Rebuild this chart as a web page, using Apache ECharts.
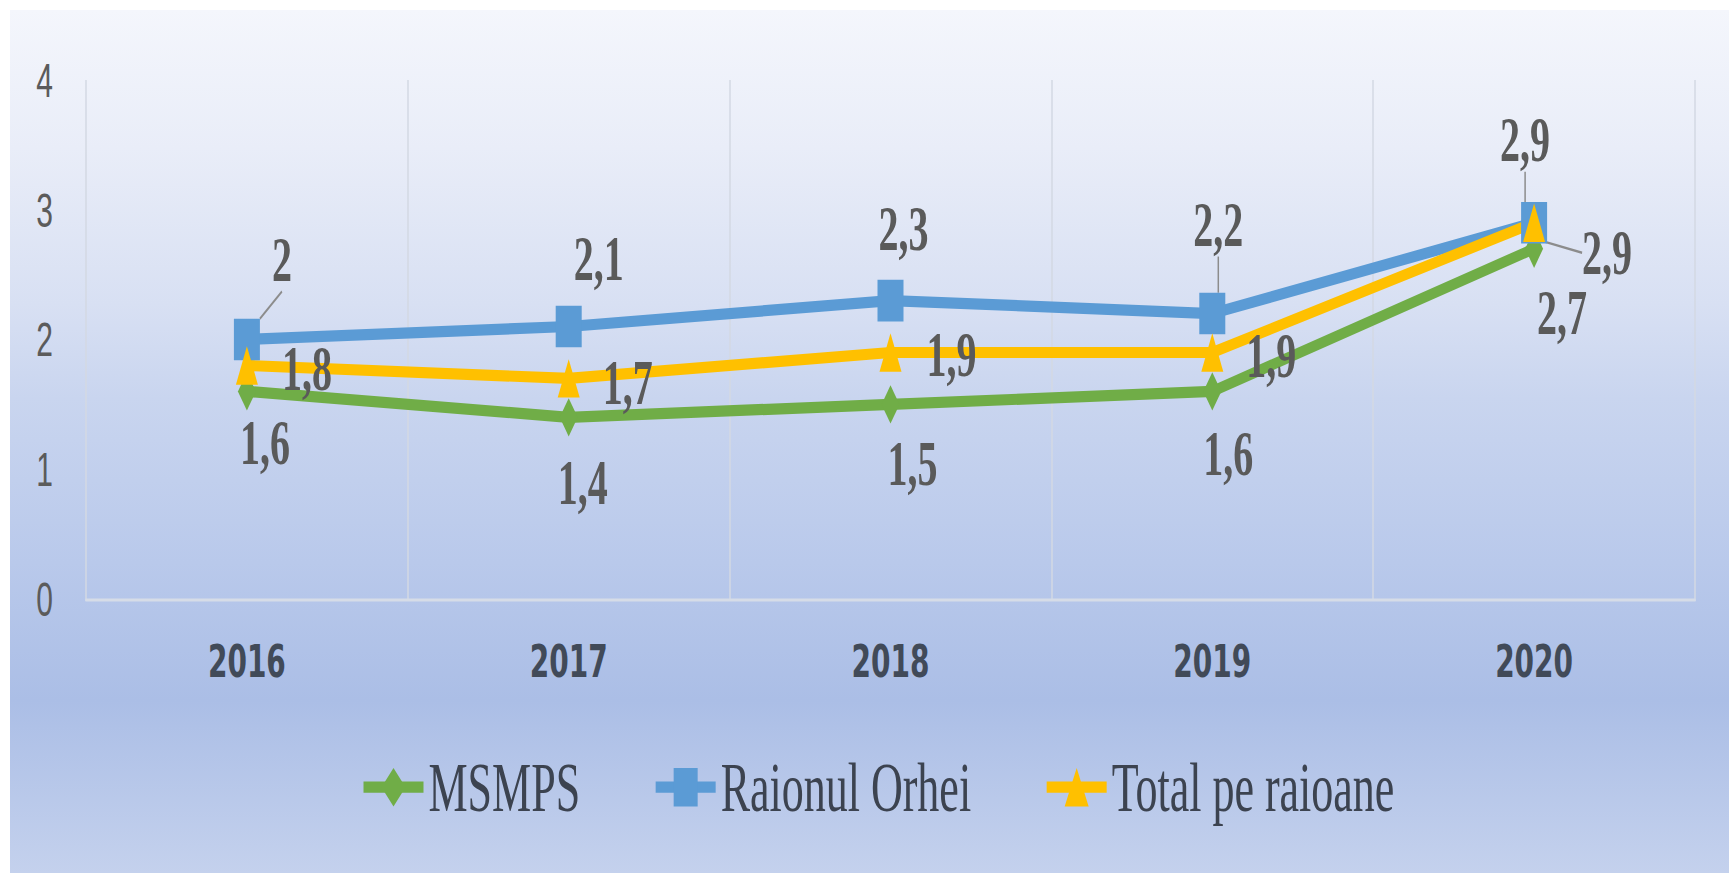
<!DOCTYPE html>
<html>
<head>
<meta charset="utf-8">
<script src="https://cdn.jsdelivr.net/npm/echarts@6/dist/echarts.min.js"></script>
<style>
html, body { margin: 0; padding: 0; background: #fff; overflow: hidden; }
#bg {
    position: absolute; left: 10px; top: 10px; width: 1719px; height: 863px;
    background: linear-gradient(to bottom, #f4f6fc 0%, #e9edf8 16%, #d8e0f3 34%, #c9d5ef 45%, #b9c9eb 64%, #abbee6 80%, #c4d1ed 100%);
}
/* the source picture is stretched vertically, so the chart is drawn flat and stretched the same way */
#main {
    position: absolute; left: 0; top: 0; width: 1729px; height: 545.625px;
    transform: scaleY(1.6); transform-origin: 0 0;
}
</style>
</head>
<body>
<div id="bg"></div>
<div id="main"></div>
<script>
var years = ['2016', '2017', '2018', '2019', '2020'];
var msmps = [1.6, 1.4, 1.5, 1.6, 2.7];
var orhei = [2, 2.1, 2.3, 2.2, 2.9];
var total = [1.8, 1.7, 1.9, 1.9, 2.9];
var yTicks = [0, 1, 2, 3, 4];

var stretch = 1.6;
// label shift from each point, in page pixels [dx, dy]
var msmpsShift = [[18, 51], [14, 65], [22, 59], [16, 62], [28, 64]];
var orheiShift = [[35, -80], [30, -68], [13, -72], [6, -89], [-9, -83]];
var totalShift = [[60, 3], [59, 4], [61, 2], [59, 3], [73, 30]];
var orheiLeader = [true, false, false, true, true];
var totalLeader = [false, false, false, false, true];

function fmt(v) {
    return String(v).replace('.', ',');
}

function points(values, shift, leader) {
    var out = [];
    for (var i = 0; i < values.length; i++) {
        var item = {
            value: values[i],
            label: { offset: [shift[i][0], shift[i][1] / stretch] }
        };
        if (leader && leader[i]) {
            item.labelLine = { show: true, lineStyle: { color: '#8c8c8c', width: 1.5 } };
        }
        out.push(item);
    }
    return out;
}

var labelStyle = {
    show: true,
    position: 'inside',
    align: 'center',
    verticalAlign: 'middle',
    fontFamily: 'Liberation Serif',
    fontWeight: 'bold',
    fontSize: 40,
    lineHeight: 40,
    color: '#5a5a5a',
    formatter: function (p) { return fmt(p.value); }
};

var myChart = echarts.init(document.getElementById('main'), null, { renderer: 'svg' });

option = {
    animation: false,
    backgroundColor: 'transparent',
    grid: {
        left: 86,
        right: 34,
        top: 80 / stretch,
        height: (599 - 80) / stretch
    },
    legend: {
        left: 355,
        top: 465,
        itemWidth: 60,
        itemHeight: 30,
        itemGap: 72,
        lineStyle: { width: 7 },
        textStyle: {
            fontFamily: 'Liberation Serif',
            fontSize: 44,
            color: '#3c4350'
        },
        data: ['MSMPS', 'Raionul Orhei', 'Total pe raioane']
    },
    xAxis: {
        type: 'category',
        boundaryGap: true,
        data: years,
        axisTick: { show: false },
        axisLine: { lineStyle: { color: '#d6dce7', width: 2 } },
        splitLine: { show: true, interval: 0, lineStyle: { color: '#d3d8e3', width: 1.5 } },
        axisLabel: {
            margin: 25,
            fontFamily: 'DejaVu Sans',
            fontWeight: 'bold',
            fontSize: 28,
            color: '#414a58'
        }
    },
    yAxis: {
        type: 'value',
        min: yTicks[0],
        max: yTicks[yTicks.length - 1],
        interval: 1,
        axisLine: { show: false },
        axisTick: { show: false },
        splitLine: { show: false },
        axisLabel: {
            margin: 33,
            fontFamily: 'Liberation Sans',
            fontSize: 30,
            color: '#5b5b5b'
        }
    },
    series: [
        {
            name: 'MSMPS',
            type: 'line',
            data: points(msmps, msmpsShift),
            symbol: 'diamond',
            symbolSize: [18, 24],
            color: '#70ad47',
            lineStyle: { width: 7, color: '#70ad47' },
            itemStyle: { color: '#70ad47' },
            label: labelStyle
        },
        {
            name: 'Raionul Orhei',
            type: 'line',
            data: points(orhei, orheiShift, orheiLeader),
            symbol: 'rect',
            symbolSize: [26, 26],
            color: '#5b9bd5',
            lineStyle: { width: 7, color: '#5b9bd5' },
            itemStyle: { color: '#5b9bd5' },
            label: labelStyle
        },
        {
            name: 'Total pe raioane',
            type: 'line',
            data: points(total, totalShift, totalLeader),
            symbol: 'triangle',
            symbolSize: [22, 24],
            color: '#ffc000',
            lineStyle: { width: 7, color: '#ffc000' },
            itemStyle: { color: '#ffc000' },
            label: labelStyle
        }
    ]
};
myChart.setOption(option);
</script>
</body>
</html>
